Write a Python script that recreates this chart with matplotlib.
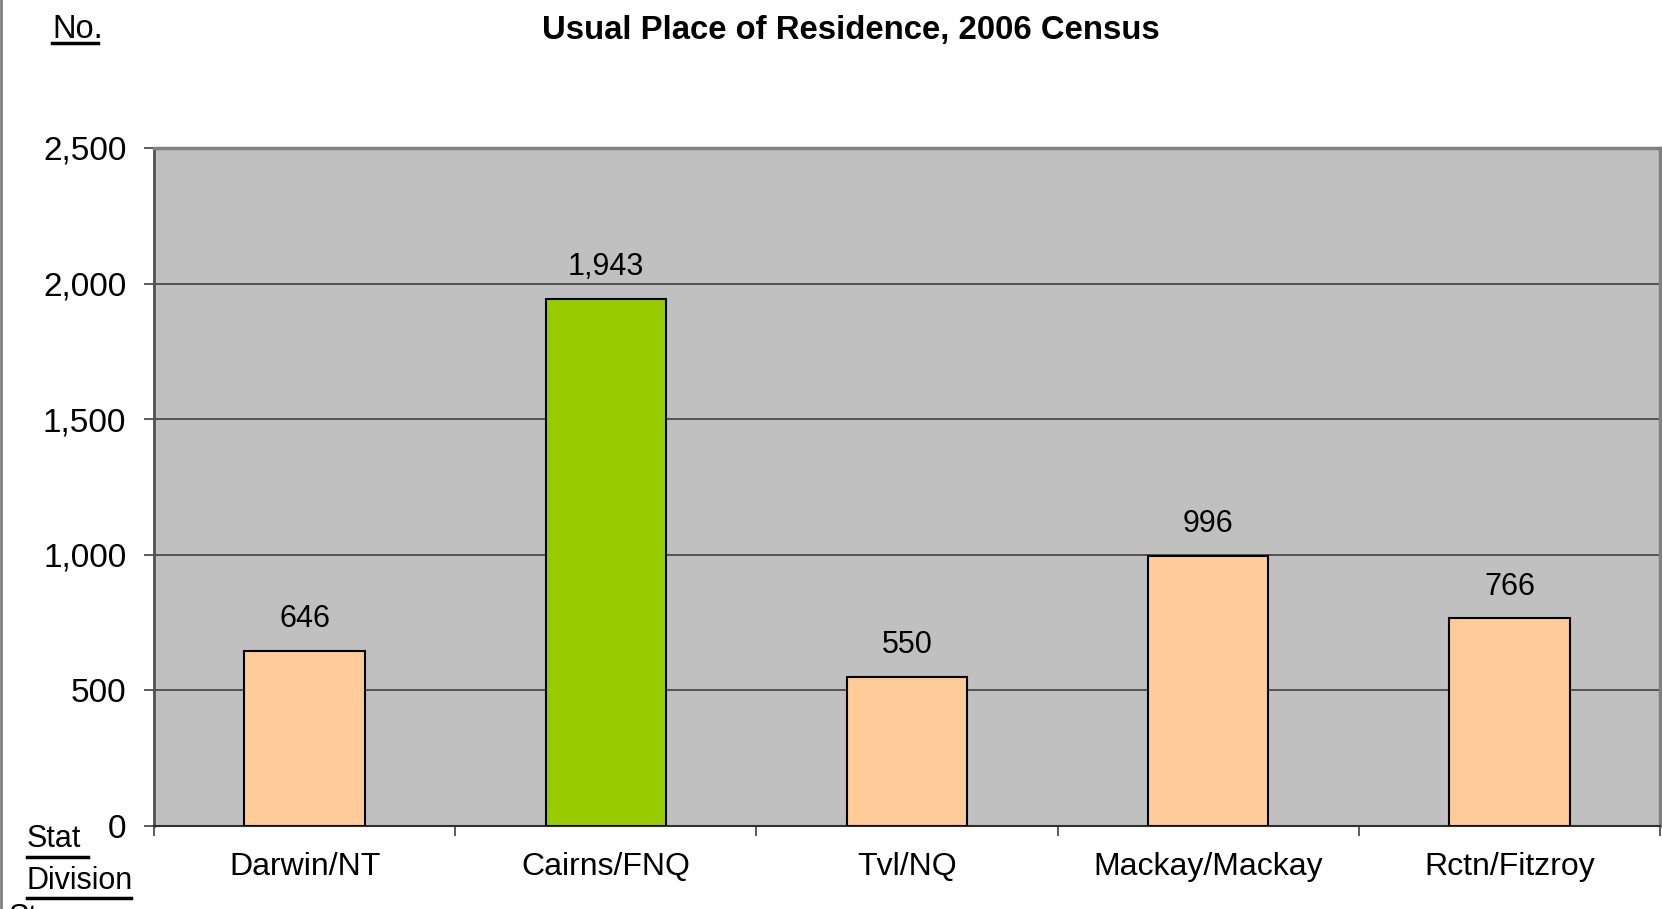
import numpy as np
import matplotlib
matplotlib.use("Agg")
import matplotlib.pyplot as plt
from matplotlib.lines import Line2D

# Data
categories = ["Darwin/NT", "Cairns/FNQ", "Tvl/NQ", "Mackay/Mackay", "Rctn/Fitzroy"]
counts = [646, 1943, 550, 996, 766]
highlight = "Cairns/FNQ"
yticks = [0, 500, 1000, 1500, 2000, 2500]

PEACH = "#FFCC99"
GREEN = "#99CC00"

plt.rcParams["font.family"] = ["Liberation Sans", "DejaVu Sans"]

fig = plt.figure(figsize=(16.62, 9.09), dpi=100)
ax = fig.add_axes([0.0927, 0.0913, 0.9061, 0.7459])
ax.set_facecolor("#C0C0C0")

x = np.arange(len(categories))
colors = [GREEN if c == highlight else PEACH for c in categories]
bars = ax.bar(x, counts, 0.4, color=colors, edgecolor="black", linewidth=1.5, zorder=3)

for xi, v in zip(x, counts):
    ax.annotate(f"{v:,}", (xi, v), xytext=(0, 12), textcoords="offset points",
                ha="center", va="bottom", fontsize=22)

ax.set_xlim(-0.5, len(categories) - 0.5)
ax.set_ylim(0, 2500)
ax.set_yticks(yticks)
ax.set_yticklabels([f"{t:,}" for t in yticks], fontsize=24)
ax.yaxis.grid(True, color="#404040", linewidth=1.2, zorder=1)
ax.set_axisbelow(True)

ax.set_xticks(x)
ax.set_xticklabels(categories, fontsize=23)
ax.set_xticks(np.arange(-0.5, len(categories)), minor=True)
ax.tick_params(axis="x", which="major", length=0, pad=19)
ax.tick_params(axis="x", which="minor", length=7, width=1.2, color="#404040")
ax.tick_params(axis="y", length=7, width=1.2, color="#404040", pad=13)

for side in ["top", "right"]:
    ax.spines[side].set_color("#808080")
    ax.spines[side].set_linewidth(2.5)
ax.spines["left"].set_color("#505050")
ax.spines["left"].set_linewidth(2)
ax.spines["bottom"].set_color("#303030")
ax.spines["bottom"].set_linewidth(1.5)

fig.text(0.512, 0.966, "Usual Place of Residence, 2006 Census", ha="center", va="center",
         fontsize=23.7, fontweight="bold")

# underlined side labels
fig.text(0.0313, 0.967, "No.", ha="left", va="center", fontsize=23.5)
fig.add_artist(Line2D([0.0313, 0.0590], [0.9525, 0.9525], color="black", linewidth=2.5))
fig.text(0.0162, 0.077, "Stat", ha="left", va="center", fontsize=22)
fig.add_artist(Line2D([0.0162, 0.0530], [0.0570, 0.0570], color="black", linewidth=2.5))
fig.text(0.0162, 0.031, "Division", ha="left", va="center", fontsize=22)
fig.add_artist(Line2D([0.0162, 0.0790], [0.0120, 0.0120], color="black", linewidth=2.5))
fig.text(0.0050, 0.0066, "St", ha="left", va="top", fontsize=22)

# outer chart border on the left
fig.add_artist(Line2D([0.0006, 0.0006], [0, 1], color="#808080", linewidth=2))

fig.savefig("out.png", dpi=100)
